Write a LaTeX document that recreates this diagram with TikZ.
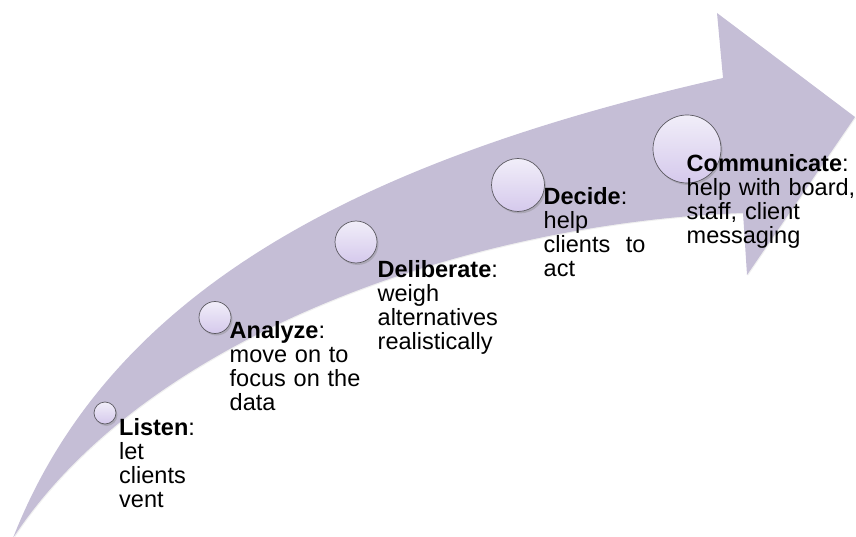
\documentclass[tikz,border=0pt]{standalone}
\usepackage{fontspec}
\setmainfont{Liberation Sans}
\usetikzlibrary{shadows}
\definecolor{arrowlilac}{RGB}{197,190,214}
\definecolor{dotborder}{RGB}{92,90,98}
\definecolor{dottop}{RGB}{241,238,249}
\definecolor{dotbottom}{RGB}{213,201,236}
\begin{document}
\begin{tikzpicture}[x=1pt,y=-1pt,
  stepdot/.style={circle, draw=dotborder, line width=0.7pt,
    top color=dottop, bottom color=dotbottom, inner sep=0pt,
    drop shadow={shadow xshift=1.5pt, shadow yshift=-2pt, opacity=0.35}},
  steplabel/.style={anchor=base west, inner sep=0pt, text width=200pt,
    align=left, font=\fontsize{23.5}{24}\selectfont},
]
\useasboundingbox (0,0) rectangle (856,537);

% curved lilac arrow
\fill[arrowlilac, drop shadow={shadow xshift=0.8pt, shadow yshift=-1pt, opacity=0.12}]
  (13,538) .. controls (110,290) and (360,160) .. (723,78)
  -- (717,13) -- (855,117) -- (747,275) -- (743,213)
  .. controls (480,222) and (150,330) .. (13,538) -- cycle;

% milestones along the arrow
\node[stepdot, minimum size=22pt] (listen) at (105,413) {};
\node[stepdot, minimum size=32pt] (analyze) at (215,317.5) {};
\node[stepdot, minimum size=42pt] (deliberate) at (356,242) {};
\node[stepdot, minimum size=53pt] (decide) at (518,185) {};
\node[stepdot, minimum size=68pt] (communicate) at (687,149) {};

% step descriptions
\node[steplabel] (listentext) at (119,435)
  {\textbf{Listen}:\\let\\clients\\vent};
\node[steplabel] (analyzetext) at (229.5,338)
  {\textbf{Analyze}:\\move on to\\focus on the\\data};
\node[steplabel] (deliberatetext) at (377.5,277)
  {\textbf{Deliberate}:\\weigh\\alternatives\\realistically};
\node[steplabel] (decidetext) at (543.5,205)
  {\textbf{Decide}:\\help\\clients~ to\\act};
\node[steplabel] (communicatetext) at (686.5,172)
  {\textbf{Communicate}:\\help with board,\\staff, client\\messaging};
\end{tikzpicture}
\end{document}
